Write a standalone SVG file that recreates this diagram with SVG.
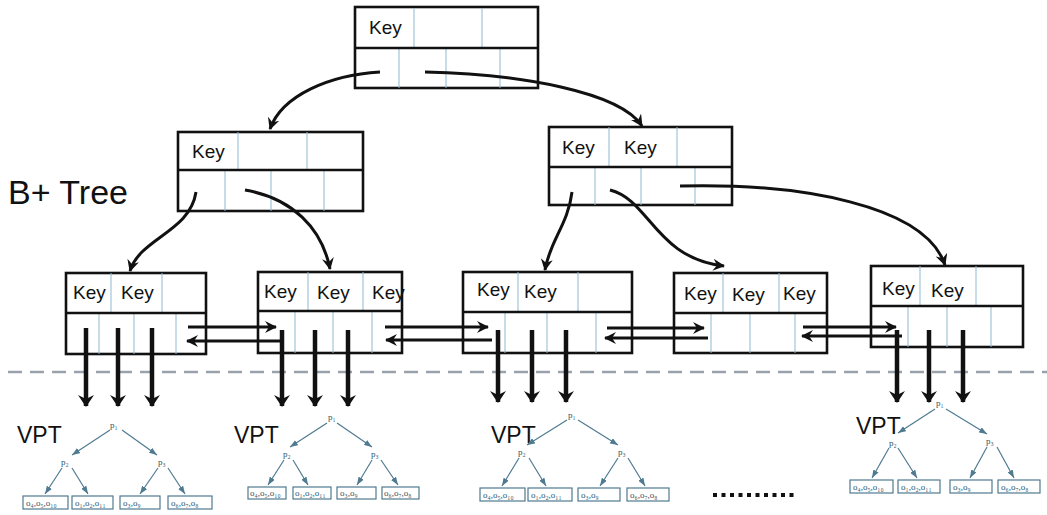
<svg xmlns="http://www.w3.org/2000/svg" width="1047" height="515" viewBox="0 0 1047 515">
<style>
.box{fill:#fff;stroke:#111;stroke-width:2.6}
.div{stroke:#8fb8d2;stroke-width:1}
.key{font-family:"Liberation Sans",Arial,sans-serif;font-size:19px;fill:#111}
.lbl{font-family:"Liberation Sans",Arial,sans-serif;fill:#111}
.ptr{fill:none;stroke:#111;stroke-width:3}
.down{stroke:#111;stroke-width:4.5}
.sib{stroke:#111;stroke-width:3}
.vl{stroke:#4f7a90;stroke-width:1.2}
.vbox{fill:#fff;stroke:#4f7a90;stroke-width:1.2}
.vt{font-family:"Liberation Serif","Times New Roman",serif;font-size:9px;fill:#2f5568}
</style>
<defs>
<marker id="hd" viewBox="0 0 12 16" refX="11" refY="8" markerWidth="12" markerHeight="16" markerUnits="userSpaceOnUse" orient="auto"><path d="M0,0 L12,8 L0,16 L4,8 z" fill="#111"/></marker>
<marker id="hc" viewBox="0 0 12 12" refX="11" refY="6" markerWidth="12" markerHeight="12" markerUnits="userSpaceOnUse" orient="auto"><path d="M0,0 L12,6 L0,12 L4,6 z" fill="#111"/></marker>
<marker id="hs" viewBox="0 0 8 6" refX="8" refY="3" markerWidth="8" markerHeight="6" markerUnits="userSpaceOnUse" orient="auto"><path d="M0,0 L8,3 L0,6 z" fill="#4f7a90"/></marker>
</defs>
<rect width="1047" height="515" fill="#fff"/>

<text class="lbl" x="8" y="204" font-size="34">B+ Tree</text>
<line x1="8" y1="372" x2="1047" y2="372" stroke="#9aa3ad" stroke-width="2.5" stroke-dasharray="14 8"/>

<g id="root">
<rect class="box" x="355" y="7" width="183" height="81"/>
<line class="div" x1="414" y1="8" x2="414" y2="48"/><line class="div" x1="482" y1="8" x2="482" y2="48"/>
<line class="div" x1="399" y1="48" x2="399" y2="88"/><line class="div" x1="446" y1="48" x2="446" y2="88"/><line class="div" x1="500" y1="48" x2="500" y2="88"/>
<line x1="355" y1="48" x2="538" y2="48" stroke="#111" stroke-width="2.6"/>
<text class="key" x="369" y="34">Key</text>
</g>

<g id="inner-left">
<rect class="box" x="178" y="132" width="185" height="79"/>
<line class="div" x1="238" y1="132" x2="238" y2="170"/><line class="div" x1="307" y1="132" x2="307" y2="170"/>
<line class="div" x1="225" y1="170" x2="225" y2="211"/><line class="div" x1="271" y1="170" x2="271" y2="211"/><line class="div" x1="324" y1="170" x2="324" y2="211"/>
<line x1="178" y1="170" x2="363" y2="170" stroke="#111" stroke-width="2.6"/>
<text class="key" x="192" y="158">Key</text>
</g>

<g id="inner-right">
<rect class="box" x="549" y="127" width="183" height="78"/>
<line class="div" x1="609" y1="127" x2="609" y2="167"/><line class="div" x1="677" y1="127" x2="677" y2="167"/>
<line class="div" x1="595" y1="167" x2="595" y2="205"/><line class="div" x1="641" y1="167" x2="641" y2="205"/><line class="div" x1="695" y1="167" x2="695" y2="205"/>
<line x1="549" y1="167" x2="732" y2="167" stroke="#111" stroke-width="2.6"/>
<text class="key" x="562" y="154">Key</text><text class="key" x="624" y="154">Key</text>
</g>

<g id="leaf1">
<rect class="box" x="66" y="273" width="140" height="81"/>
<line class="div" x1="111" y1="273" x2="111" y2="313"/><line class="div" x1="162" y1="273" x2="162" y2="313"/>
<line class="div" x1="99" y1="313" x2="99" y2="354"/><line class="div" x1="134" y1="313" x2="134" y2="354"/><line class="div" x1="176" y1="313" x2="176" y2="354"/>
<line x1="66" y1="313" x2="206" y2="313" stroke="#111" stroke-width="2.6"/>
<text class="key" x="73" y="299">Key</text><text class="key" x="121" y="299">Key</text>
</g>

<g id="leaf2">
<rect class="box" x="258" y="272" width="144" height="81"/>
<line class="div" x1="308" y1="272" x2="308" y2="311"/><line class="div" x1="363" y1="272" x2="363" y2="311"/>
<line class="div" x1="295" y1="311" x2="295" y2="353"/><line class="div" x1="333" y1="311" x2="333" y2="353"/><line class="div" x1="372" y1="311" x2="372" y2="353"/>
<line x1="258" y1="311" x2="402" y2="311" stroke="#111" stroke-width="2.6"/>
<text class="key" x="264" y="298">Key</text><text class="key" x="317" y="299">Key</text><text class="key" x="372" y="299">Key</text>
</g>

<g id="leaf3">
<rect class="box" x="463" y="272" width="169" height="81"/>
<line class="div" x1="518" y1="272" x2="518" y2="312"/><line class="div" x1="578" y1="272" x2="578" y2="312"/>
<line class="div" x1="505" y1="312" x2="505" y2="353"/><line class="div" x1="547" y1="312" x2="547" y2="353"/><line class="div" x1="596" y1="312" x2="596" y2="353"/>
<line x1="463" y1="312" x2="632" y2="312" stroke="#111" stroke-width="2.6"/>
<text class="key" x="477" y="296">Key</text><text class="key" x="524" y="298">Key</text>
</g>

<g id="leaf4">
<rect class="box" x="674" y="273" width="153" height="80"/>
<line class="div" x1="723" y1="273" x2="723" y2="313"/><line class="div" x1="779" y1="273" x2="779" y2="313"/>
<line class="div" x1="711" y1="313" x2="711" y2="353"/><line class="div" x1="750" y1="313" x2="750" y2="353"/><line class="div" x1="795" y1="313" x2="795" y2="353"/>
<line x1="674" y1="313" x2="827" y2="313" stroke="#111" stroke-width="2.6"/>
<text class="key" x="684" y="300">Key</text><text class="key" x="732" y="301">Key</text><text class="key" x="783" y="300">Key</text>
</g>

<g id="leaf5">
<rect class="box" x="871" y="266" width="152" height="81"/>
<line class="div" x1="920" y1="266" x2="920" y2="306"/><line class="div" x1="976" y1="266" x2="976" y2="306"/>
<line class="div" x1="908" y1="306" x2="908" y2="347"/><line class="div" x1="947" y1="306" x2="947" y2="347"/><line class="div" x1="991" y1="306" x2="991" y2="347"/>
<line x1="871" y1="306" x2="1023" y2="306" stroke="#111" stroke-width="2.6"/>
<text class="key" x="882" y="295">Key</text><text class="key" x="931" y="297">Key</text>
</g>

<g id="connectors">
<path class="ptr" d="M380,72 C330,75 282,95 270,129" marker-end="url(#hc)"/>
<path class="ptr" d="M425,72 C520,74 620,92 642,126" marker-end="url(#hc)"/>
<path class="ptr" d="M196,192 C190,232 140,238 130,271" marker-end="url(#hc)"/>
<path class="ptr" d="M245,190 C292,198 322,228 330,269" marker-end="url(#hc)"/>
<path class="ptr" d="M572,192 C568,225 550,240 545,270" marker-end="url(#hc)"/>
<path class="ptr" d="M610,190 C650,200 655,258 724,266" marker-end="url(#hc)"/>
<path class="ptr" d="M680,186 C800,183 925,205 945,265" marker-end="url(#hc)"/>

<line class="sib" x1="188" y1="327" x2="276" y2="327" marker-end="url(#hc)"/>
<line class="sib" x1="282" y1="341" x2="187" y2="341" marker-end="url(#hc)"/>
<line class="sib" x1="385" y1="327" x2="488" y2="327" marker-end="url(#hc)"/>
<line class="sib" x1="492" y1="340" x2="386" y2="340" marker-end="url(#hc)"/>
<line class="sib" x1="607" y1="328" x2="704" y2="328" marker-end="url(#hc)"/>
<line class="sib" x1="708" y1="338" x2="605" y2="338" marker-end="url(#hc)"/>
<line class="sib" x1="803" y1="327" x2="896" y2="327" marker-end="url(#hc)"/>
<line class="sib" x1="902" y1="336" x2="802" y2="336" marker-end="url(#hc)"/>

<line class="down" x1="86" y1="328" x2="86" y2="406" marker-end="url(#hd)"/>
<line class="down" x1="118" y1="328" x2="118" y2="406" marker-end="url(#hd)"/>
<line class="down" x1="152" y1="328" x2="152" y2="406" marker-end="url(#hd)"/>
<line class="down" x1="282" y1="330" x2="282" y2="406" marker-end="url(#hd)"/>
<line class="down" x1="315" y1="330" x2="315" y2="406" marker-end="url(#hd)"/>
<line class="down" x1="348" y1="330" x2="348" y2="406" marker-end="url(#hd)"/>
<line class="down" x1="498" y1="330" x2="498" y2="402" marker-end="url(#hd)"/>
<line class="down" x1="532" y1="330" x2="532" y2="402" marker-end="url(#hd)"/>
<line class="down" x1="566" y1="330" x2="566" y2="402" marker-end="url(#hd)"/>
<line class="down" x1="897" y1="330" x2="897" y2="402" marker-end="url(#hd)"/>
<line class="down" x1="929" y1="330" x2="929" y2="402" marker-end="url(#hd)"/>
<line class="down" x1="963" y1="330" x2="963" y2="402" marker-end="url(#hd)"/>
</g>

<g id="vpt1">
<text class="lbl" x="17" y="443" font-size="23">VPT</text>
<text class="vt" x="110" y="428">p₁</text><text class="vt" x="61" y="465">p₂</text><text class="vt" x="158" y="465">p₃</text>
<line class="vl" x1="110" y1="430" x2="72" y2="455" marker-end="url(#hs)"/>
<line class="vl" x1="122" y1="430" x2="157" y2="455" marker-end="url(#hs)"/>
<line class="vl" x1="62" y1="468" x2="45" y2="494" marker-end="url(#hs)"/>
<line class="vl" x1="72" y1="468" x2="88" y2="494" marker-end="url(#hs)"/>
<line class="vl" x1="158" y1="468" x2="140" y2="494" marker-end="url(#hs)"/>
<line class="vl" x1="168" y1="468" x2="185" y2="494" marker-end="url(#hs)"/>
<rect class="vbox" x="23" y="496" width="45" height="13"/><rect class="vbox" x="72" y="496" width="41" height="13"/><rect class="vbox" x="120" y="496" width="40" height="13"/><rect class="vbox" x="168" y="496" width="44" height="13"/>
<text class="vt" x="26" y="506">o₄,o₅,o₁₀</text><text class="vt" x="75" y="506">o₁,o₂,o₁₁</text><text class="vt" x="123" y="506">o₃,o₉</text><text class="vt" x="171" y="506">o₆,o₇,o₈</text>
</g>

<g id="vpt2">
<text class="lbl" x="234" y="443" font-size="23">VPT</text>
<text class="vt" x="328" y="420">p₁</text><text class="vt" x="283" y="457">p₂</text><text class="vt" x="371" y="457">p₃</text>
<line class="vl" x1="327" y1="423" x2="290" y2="447" marker-end="url(#hs)"/>
<line class="vl" x1="337" y1="423" x2="372" y2="447" marker-end="url(#hs)"/>
<line class="vl" x1="284" y1="460" x2="268" y2="485" marker-end="url(#hs)"/>
<line class="vl" x1="293" y1="460" x2="308" y2="485" marker-end="url(#hs)"/>
<line class="vl" x1="372" y1="460" x2="357" y2="485" marker-end="url(#hs)"/>
<line class="vl" x1="381" y1="460" x2="398" y2="485" marker-end="url(#hs)"/>
<rect class="vbox" x="248" y="487" width="38" height="12"/><rect class="vbox" x="293" y="487" width="38" height="12"/><rect class="vbox" x="337" y="487" width="39" height="12"/><rect class="vbox" x="382" y="487" width="37" height="12"/>
<text class="vt" x="250" y="496">o₄,o₅,o₁₀</text><text class="vt" x="295" y="496">o₁,o₂,o₁₁</text><text class="vt" x="340" y="496">o₃,o₉</text><text class="vt" x="384" y="496">o₆,o₇,o₈</text>
</g>

<g id="vpt3">
<text class="lbl" x="491" y="443" font-size="23">VPT</text>
<text class="vt" x="568" y="418">p₁</text><text class="vt" x="518" y="455">p₂</text><text class="vt" x="618" y="455">p₃</text>
<line class="vl" x1="567" y1="420" x2="527" y2="445" marker-end="url(#hs)"/>
<line class="vl" x1="578" y1="420" x2="618" y2="445" marker-end="url(#hs)"/>
<line class="vl" x1="519" y1="458" x2="502" y2="486" marker-end="url(#hs)"/>
<line class="vl" x1="529" y1="458" x2="546" y2="486" marker-end="url(#hs)"/>
<line class="vl" x1="618" y1="458" x2="600" y2="486" marker-end="url(#hs)"/>
<line class="vl" x1="628" y1="458" x2="645" y2="486" marker-end="url(#hs)"/>
<rect class="vbox" x="480" y="488" width="45" height="13"/><rect class="vbox" x="528" y="488" width="44" height="13"/><rect class="vbox" x="578" y="488" width="42" height="13"/><rect class="vbox" x="627" y="488" width="42" height="13"/>
<text class="vt" x="483" y="498">o₄,o₅,o₁₀</text><text class="vt" x="531" y="498">o₁,o₂,o₁₁</text><text class="vt" x="581" y="498">o₃,o₉</text><text class="vt" x="630" y="498">o₆,o₇,o₈</text>
</g>

<line x1="713" y1="495" x2="798" y2="495" stroke="#111" stroke-width="4" stroke-dasharray="4 4.5"/>

<g id="vpt4">
<text class="lbl" x="856" y="434" font-size="23">VPT</text>
<text class="vt" x="936" y="406">p₁</text><text class="vt" x="889" y="446">p₂</text><text class="vt" x="986" y="444">p₃</text>
<line class="vl" x1="935" y1="409" x2="898" y2="433" marker-end="url(#hs)"/>
<line class="vl" x1="946" y1="409" x2="987" y2="434" marker-end="url(#hs)"/>
<line class="vl" x1="889" y1="448" x2="872" y2="478" marker-end="url(#hs)"/>
<line class="vl" x1="898" y1="448" x2="917" y2="478" marker-end="url(#hs)"/>
<line class="vl" x1="987" y1="447" x2="970" y2="478" marker-end="url(#hs)"/>
<line class="vl" x1="997" y1="447" x2="1014" y2="478" marker-end="url(#hs)"/>
<rect class="vbox" x="850" y="480" width="43" height="13"/><rect class="vbox" x="898" y="480" width="42" height="13"/><rect class="vbox" x="950" y="480" width="42" height="13"/><rect class="vbox" x="998" y="480" width="42" height="13"/>
<text class="vt" x="853" y="490">o₄,o₅,o₁₀</text><text class="vt" x="901" y="490">o₁,o₂,o₁₁</text><text class="vt" x="953" y="490">o₃,o₉</text><text class="vt" x="1001" y="490">o₆,o₇,o₈</text>
</g>
</svg>
